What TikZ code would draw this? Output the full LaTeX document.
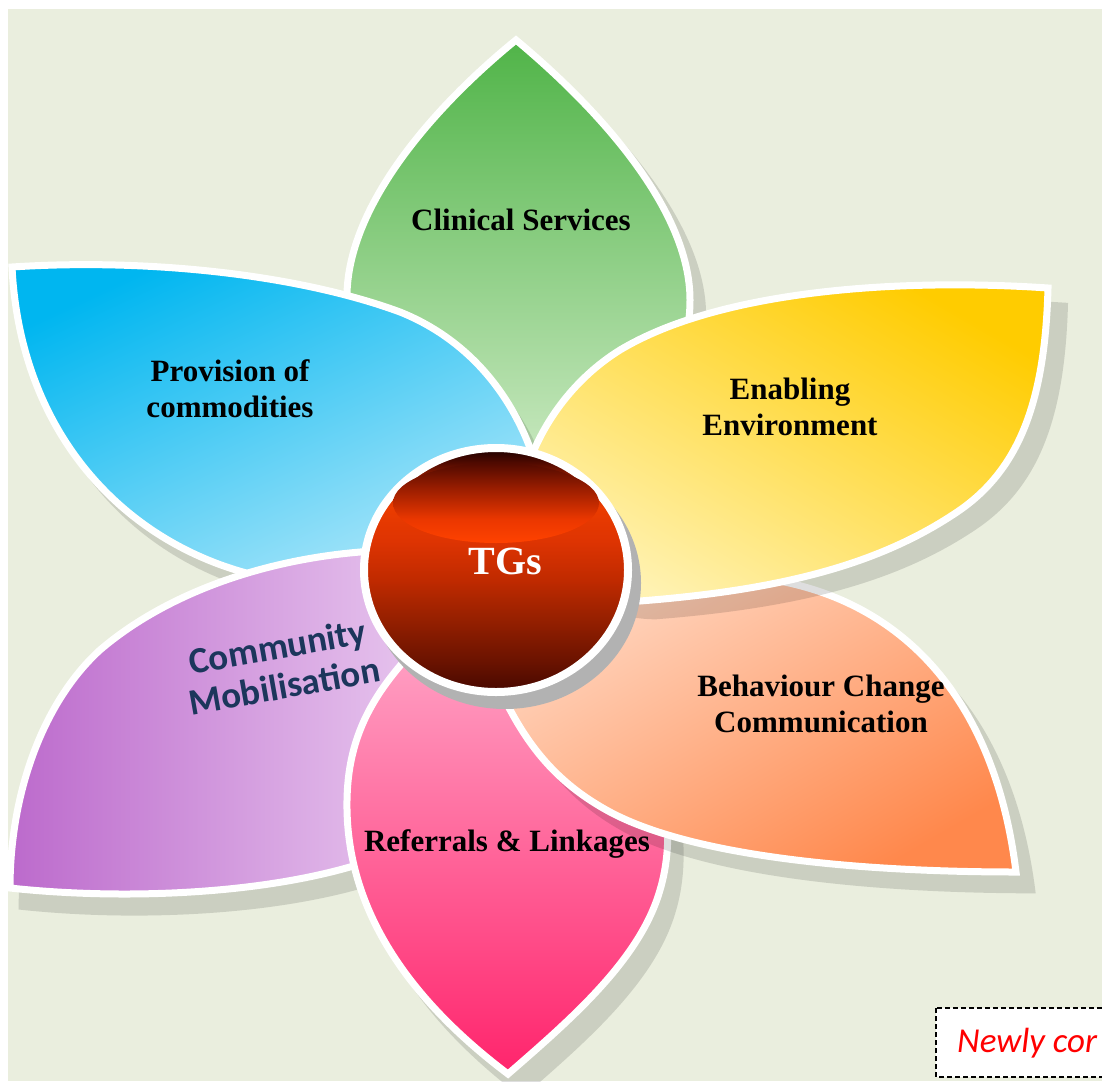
\documentclass[tikz,border=0pt]{standalone}
\usepackage{fontspec}
\setmainfont{Liberation Serif}
\newfontfamily\calibfont{Carlito}
\definecolor{bgcolor}{RGB}{234,238,222}
\definecolor{greentop}{RGB}{80,180,72}
\definecolor{greenbot}{RGB}{205,234,196}
\definecolor{bluetop}{RGB}{0,182,240}
\definecolor{bluebot}{RGB}{182,233,250}
\definecolor{yellowtop}{RGB}{255,204,0}
\definecolor{yellowbot}{RGB}{255,242,178}
\definecolor{orangetop}{RGB}{255,214,192}
\definecolor{orangebot}{RGB}{255,136,76}
\definecolor{pinktop}{RGB}{255,172,204}
\definecolor{pinkbot}{RGB}{255,36,108}
\definecolor{purpleleft}{RGB}{188,106,204}
\definecolor{purpleright}{RGB}{236,208,242}
\definecolor{navytext}{RGB}{28,54,92}
\definecolor{ballshade}{RGB}{178,178,178}
\pgfdeclareverticalshading{tgball}{100bp}{rgb(0bp)=(.275,.031,0); rgb(25bp)=(.275,.031,0); rgb(31bp)=(.412,.071,0); rgb(40bp)=(.588,.125,0); rgb(48bp)=(.753,.165,0); rgb(56bp)=(.871,.204,.008); rgb(63bp)=(.922,.235,0); rgb(68bp)=(.667,.137,0); rgb(72bp)=(.314,.039,0); rgb(75bp)=(.098,0,0); rgb(100bp)=(.098,0,0)}
\pgfdeclareverticalshading{tgglow}{100bp}{rgb(0bp)=(1,.26,0); rgb(25bp)=(1,.26,0); rgb(40bp)=(.92,.216,0); rgb(60bp)=(.588,.11,0); rgb(75bp)=(.314,.039,0); rgb(100bp)=(.314,.039,0)}
\newcommand{\greenleaf}{(516,40) .. controls (430,110) and (345,210) .. (347,300) .. controls (348,400) and (450,480) .. (520,480) .. controls (600,480) and (690,400) .. (690,300) .. controls (690,210) and (600,110) .. (516,40) -- cycle}
\newcommand{\blueleaf}{(12,267) .. controls (150,258) and (300,275) .. (400,312) .. controls (470,340) and (520,400) .. (540,480) .. controls (520,580) and (380,610) .. (250,574) .. controls (120,540) and (20,430) .. (12,267) -- cycle}
\newcommand{\purpleleaf}{(10,888) .. controls (120,900) and (260,895) .. (360,864) .. controls (440,840) and (470,600) .. (400,550) .. controls (280,552) and (170,590) .. (100,650) .. controls (45,700) and (10,790) .. (10,888) -- cycle}
\newcommand{\pinkleaf}{(508,1074) .. controls (410,1000) and (345,910) .. (347,800) .. controls (348,740) and (370,700) .. (405,660) .. controls (440,610) and (580,620) .. (630,700) .. controls (670,770) and (675,840) .. (660,890) .. controls (640,960) and (570,1020) .. (508,1074) -- cycle}
\newcommand{\orangeleaf}{(1016,872) .. controls (880,872) and (700,860) .. (610,812) .. controls (560,785) and (530,750) .. (505,700) .. controls (520,620) and (580,580) .. (700,575) .. controls (860,570) and (990,660) .. (1016,872) -- cycle}
\newcommand{\yellowleaf}{(1048,288) .. controls (900,278) and (720,290) .. (620,350) .. controls (575,378) and (545,420) .. (530,460) .. controls (520,540) and (560,600) .. (640,601) .. controls (780,590) and (880,565) .. (960,510) .. controls (1020,468) and (1045,400) .. (1048,288) -- cycle}

\begin{document}
\begin{tikzpicture}[x=1pt, y=-1pt,
  petal/.style={draw=white, line width=7pt, line join=miter},
  petalshadow/.style={fill=black, fill opacity=0.13, shift={(14,18)}, scale around={1.011:(500,570)}},
  petallabel/.style={font=\fontsize{31}{36}\selectfont\bfseries, text=black, align=center, inner sep=0pt},
  commlabel/.style={font=\calibfont\fontsize{37}{40}\selectfont\bfseries, text=navytext, align=center, inner sep=0pt, rotate=10},
  ballabel/.style={font=\fontsize{40}{44}\selectfont\bfseries, text=white, inner sep=0pt},
  notebox/.style={draw=black, fill=white, line width=1.5pt, dash pattern=on 5pt off 3pt},
  notelabel/.style={font=\calibfont\itshape\fontsize{35}{40}\selectfont, text=red, inner sep=0pt}]

  \fill[white] (0,0) rectangle (1102,1081);
  \fill[bgcolor] (8,9) rectangle (1102,1081);
  \useasboundingbox (0,0) rectangle (1102,1081);

  \fill[petalshadow] \greenleaf;
  \path[petal, top color=greentop, bottom color=greenbot] \greenleaf;

  \fill[petalshadow] \blueleaf;
  \path[petal, top color=bluetop, bottom color=bluebot, shading angle=25] \blueleaf;

  \fill[petalshadow] \purpleleaf;
  \path[petal, left color=purpleleft, right color=purpleright] \purpleleaf;

  \fill[petalshadow] \pinkleaf;
  \path[petal, top color=pinktop, bottom color=pinkbot] \pinkleaf;

  \fill[petalshadow] \orangeleaf;
  \path[petal, top color=orangetop, bottom color=orangebot, shading angle=30] \orangeleaf;

  \fill[petalshadow] \yellowleaf;
  \path[petal, top color=yellowtop, bottom color=yellowbot, shading angle=-30] \yellowleaf;

  \fill[ballshade] (505,583) ellipse [x radius=136pt, y radius=126pt];
  \path[shade, shading=tgball, draw=white, line width=8pt] (496,570) ellipse [x radius=132pt, y radius=122pt];
  \path[shade, shading=tgglow] (496,503) ellipse [x radius=103pt, y radius=40pt];

  \node[petallabel] (clinical) at (521,220) {Clinical Services};
  \node[petallabel] (provision) at (230,389) {Provision of\\commodities};
  \node[petallabel] (enabling) at (790,407) {Enabling\\Environment};
  \node[petallabel] (behaviour) at (821,704) {Behaviour Change\\Communication};
  \node[petallabel, anchor=base] (referrals) at (507,851) {Referrals \& Linkages};
  \node[commlabel] (community) at (281,666) {Community\\Mobilisation};
  \node[ballabel, anchor=base] (tgs) at (505,574) {TGs};

  \draw[notebox] (936,1008) rectangle (1130,1077);
  \node[notelabel, anchor=base west] (newly) at (957,1052) {Newly cor};
\end{tikzpicture}
\end{document}
